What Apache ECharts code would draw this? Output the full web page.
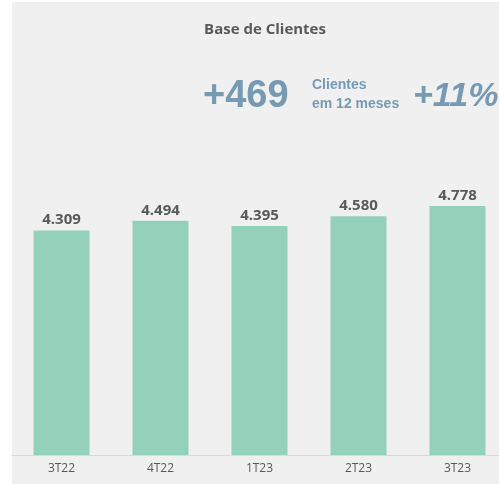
<!DOCTYPE html>
<html lang="pt">

<head>
    <meta charset="UTF-8">
    <title>Base de Clientes</title>
    <script src="https://cdn.jsdelivr.net/npm/echarts@6/dist/echarts.min.js"></script>
    <style>
        body { margin: 0; background: #fff; }
        #main { width: 499px; height: 484px; }
    </style>
</head>

<body>
    <div id="main"></div>
    <script>
        // dados
        var periodos = ['3T22', '4T22', '1T23', '2T23', '3T23'];
        var clientes = [4309, 4494, 4395, 4580, 4778];
        var destaqueNum = '+469';
        var destaqueTxt = ['Clientes', 'em 12 meses'];
        var destaquePct = '+11%';

        var myChart = echarts.init(document.getElementById('main'));

        function fmt(v) {
            return (v / 1000).toFixed(3);
        }

        var azul = '#7699b4';

        var option = {
            backgroundColor: '#fff',
            title: {
                text: 'Base de Clientes',
                left: 260,
                textAlign: 'center',
                top: 17,
                textStyle: { fontFamily: 'Open Sans', fontSize: 15, fontWeight: 'bold', color: '#595959' }
            },
            graphic: [
                { type: 'rect', shape: { x: 12, y: 2, width: 490, height: 485 }, style: { fill: '#f0f0f0' }, z: -10 },
                { type: 'text', left: 203, top: 78, style: { text: destaqueNum, font: 'bold 38px "Liberation Sans"', fill: azul } },
                { type: 'text', left: 312, top: 76, style: { text: destaqueTxt.join('\n'), font: 'bold 14px "Liberation Sans"', lineHeight: 19, fill: azul } },
                { type: 'text', left: 413, top: 80, style: { text: destaquePct, font: 'italic bold 34px "Liberation Sans"', fill: azul } }
            ],
            grid: { left: 12, width: 495, top: 38, bottom: 29, outerBoundsMode: 'none' },
            xAxis: {
                type: 'category',
                data: periodos,
                axisLine: { lineStyle: { color: '#d9d9d9' } },
                axisTick: { show: false },
                axisLabel: { color: '#595959', fontSize: 12, fontFamily: 'Open Sans', margin: 8 }
            },
            yAxis: {
                type: 'value',
                min: 0,
                max: 8000,
                show: false
            },
            series: [{
                type: 'bar',
                data: clientes,
                barWidth: 56,
                itemStyle: { color: '#93d1bb' },
                label: {
                    show: true,
                    position: 'top',
                    distance: 3,
                    formatter: function (p) { return fmt(p.value); },
                    color: '#595959',
                    fontSize: 15,
                    fontWeight: 'bold',
                    fontFamily: 'Open Sans'
                }
            }]
        };

        myChart.setOption(option);
    </script>
</body>

</html>
